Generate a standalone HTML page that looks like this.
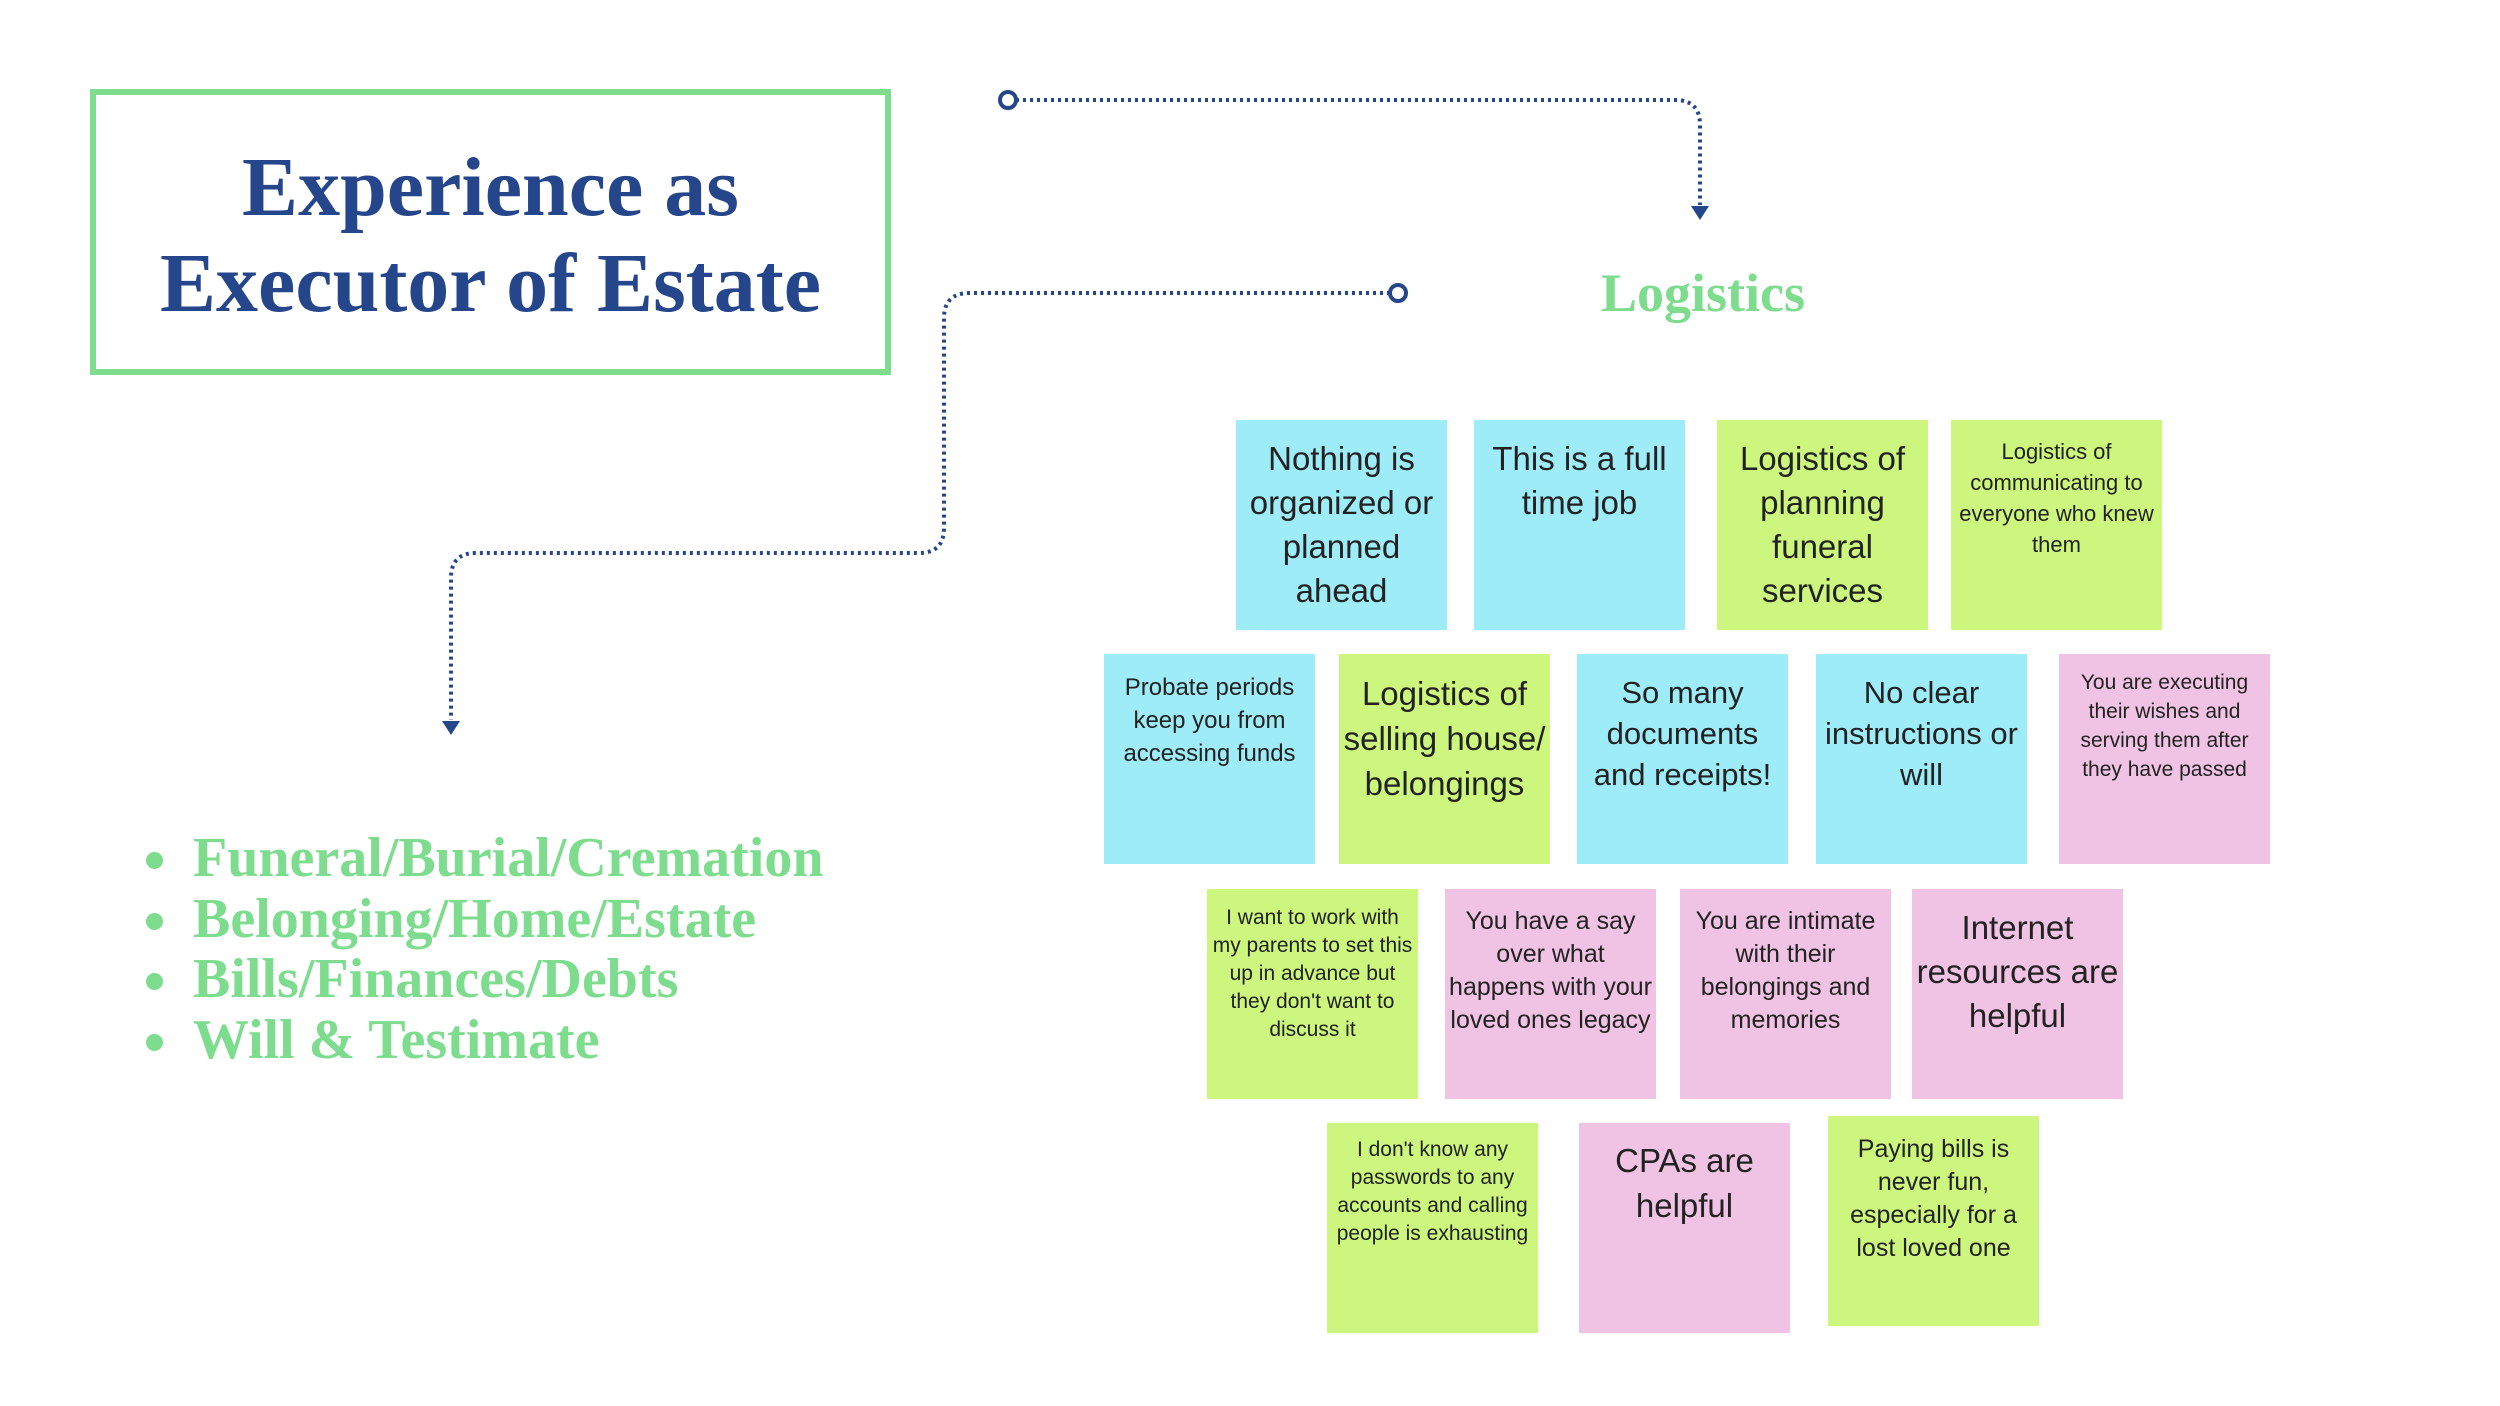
<!DOCTYPE html>
<html><head><meta charset="utf-8"><style>
body{margin:0;width:2500px;height:1406px;background:#fff;position:relative;overflow:hidden;font-family:"Liberation Sans",sans-serif}
.box{position:absolute;left:90px;top:89px;width:789px;height:274px;border:6px solid #7ddc8e}
.title{position:absolute;left:90px;width:801px;text-align:center;font-family:"Liberation Serif",serif;font-weight:bold;color:#25468a;font-size:84px;line-height:96px;top:140px}
.log{position:absolute;left:1553px;width:300px;top:262px;text-align:center;font-family:"Liberation Serif",serif;font-weight:bold;color:#7ddc8e;font-size:54px}
ul{position:absolute;left:140px;top:828px;margin:0;padding:0;list-style:none;font-family:"Liberation Serif",serif;font-weight:bold;color:#7ddc8e;font-size:56px;line-height:60.5px}
ul li{padding-left:53px;position:relative}
ul li:before{content:"";position:absolute;left:6px;top:24px;width:17px;height:17px;border-radius:50%;background:#7ddc8e}
.n{position:absolute;width:211px;height:210px;box-sizing:border-box;text-align:center;color:#222;padding-left:4px;padding-right:4px}
.c{background:#9eecf8}.g{background:#ccf67e}.p{background:#f0c2e4}
.b{font-size:33px;line-height:44px;padding-top:17px}
</style></head><body>
<div class="box"></div>
<div class="title">Experience as<br>Executor of Estate</div>
<div class="log">Logistics</div>
<svg width="2500" height="1406" style="position:absolute;left:0;top:0">
<g fill="none" stroke="#25468a" stroke-width="4" stroke-dasharray="3 4">
<path d="M1016 100 H1675 Q1700 100 1700 125 V205"/>
<path d="M1390 293 H970 Q944 293 944 318 V528 Q944 553 919 553 H476 Q451 553 451 578 V720"/>
</g>
<g fill="#fff" stroke="#25468a" stroke-width="4">
<circle cx="1008" cy="100" r="8"/><circle cx="1398" cy="293" r="8"/>
</g>
<g fill="#25468a">
<path d="M1691 206 L1709 206 L1700 220 Z"/><path d="M442 721 L460 721 L451 735 Z"/>
</g>
</svg>
<ul><li>Funeral/Burial/Cremation</li><li>Belonging/Home/Estate</li><li>Bills/Finances/Debts</li><li>Will &amp; Testimate</li></ul>

<div class="n c b" style="left:1236px;top:420px">Nothing is organized or planned ahead</div>
<div class="n c b" style="left:1474px;top:420px">This is a full time job</div>
<div class="n g b" style="left:1717px;top:420px">Logistics of planning funeral services</div>
<div class="n g" style="left:1951px;top:420px;font-size:22px;line-height:31px;padding-top:16px">Logistics of communicating to everyone who knew them</div>

<div class="n c" style="left:1104px;top:654px;font-size:24px;line-height:33px;padding-top:17px">Probate periods keep you from accessing funds</div>
<div class="n g" style="left:1339px;top:654px;font-size:33px;line-height:45px;padding-top:17px">Logistics of selling house/ belongings</div>
<div class="n c" style="left:1577px;top:654px;font-size:31px;line-height:41px;padding-top:18px">So many documents and receipts!</div>
<div class="n c" style="left:1816px;top:654px;font-size:31px;line-height:41px;padding-top:18px">No clear instructions or will</div>
<div class="n p" style="left:2059px;top:654px;font-size:21px;line-height:29px;padding-top:14px">You are executing their wishes and serving them after they have passed</div>

<div class="n g" style="left:1207px;top:889px;font-size:21px;line-height:28px;padding-top:15px">I want to work with my parents to set this up in advance but they don't want to discuss it</div>
<div class="n p" style="left:1445px;top:889px;font-size:25px;line-height:33px;padding-top:16px">You have a say over what happens with your loved ones legacy</div>
<div class="n p" style="left:1680px;top:889px;font-size:25px;line-height:33px;padding-top:16px">You are intimate with their belongings and memories</div>
<div class="n p" style="left:1912px;top:889px;font-size:33px;line-height:44px;padding-top:17px">Internet resources are helpful</div>

<div class="n g" style="left:1327px;top:1123px;font-size:21px;line-height:28px;padding-top:13px">I don't know any passwords to any accounts and calling people is exhausting</div>
<div class="n p" style="left:1579px;top:1123px;font-size:33px;line-height:45px;padding-top:15px">CPAs are helpful</div>
<div class="n g" style="left:1828px;top:1116px;font-size:25px;line-height:33px;padding-top:17px">Paying bills is never fun, especially for a lost loved one</div>
</body></html>
